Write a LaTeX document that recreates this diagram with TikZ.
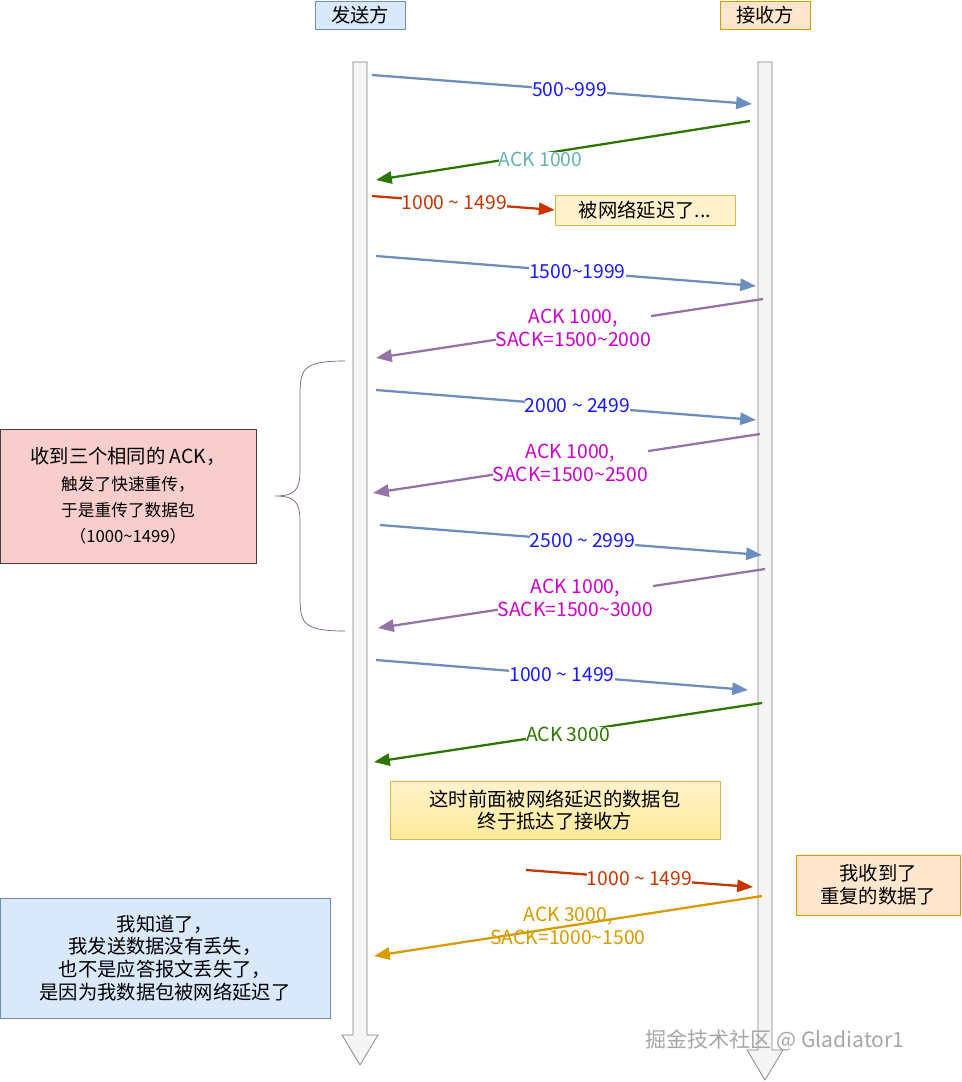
\documentclass[tikz,border=0pt]{standalone}
\usepackage{fontspec}
\setmainfont{Noto Sans CJK SC}
\usetikzlibrary{arrows.meta,positioning}
\definecolor{blueline}{HTML}{6C8EBF}
\definecolor{bluefill}{HTML}{DAE8FC}
\definecolor{greenline}{HTML}{2D7600}
\definecolor{redline}{HTML}{C73500}
\definecolor{purpleline}{HTML}{9673A6}
\definecolor{pinktext}{HTML}{CC00CC}
\definecolor{orangeline}{HTML}{D79B00}
\definecolor{orangefill}{HTML}{FFE6CC}
\definecolor{yellowfill}{HTML}{FFF2CC}
\definecolor{yellowline}{HTML}{D6B656}
\definecolor{redfill}{HTML}{F8CECC}
\definecolor{bluetext}{HTML}{1A1AFF}
\tikzset{
  msg/.style={line width=1.3pt,-{Triangle[length=9pt,width=7pt]}},
  lbl/.style={font=\fontsize{11}{13}\selectfont,fill=white,inner sep=0pt,align=center},
  box/.style={draw,font=\fontsize{11}{13}\selectfont,align=center,inner sep=2pt}
}
\begin{document}
\begin{tikzpicture}[x=0.02cm,y=-0.02cm]
  \useasboundingbox (0,0) rectangle (962,1082);
  % lifelines
  \draw[gray,fill=gray!8] (353,62) -- (367,62) -- (367,1035) -- (378,1035) -- (360,1065) -- (342,1035) -- (353,1035) -- cycle;
  \draw[gray,fill=gray!8] (758,62) -- (772,62) -- (772,1050) -- (783,1050) -- (765,1080) -- (747,1050) -- (758,1050) -- cycle;
  \node[box,draw=blueline,fill=bluefill,minimum width=90*0.02cm,minimum height=28*0.02cm] (snd) at (360,15) {发送方};
  \node[box,draw=orangeline,fill=orangefill,minimum width=90*0.02cm,minimum height=28*0.02cm] (rcv) at (765,15) {接收方};
  % end points
  \foreach \n/\x/\y in {a1/372/75,a2/752/104,b1/750/121,b2/376/180,c1/372/196,d1/376/256,d2/756/286,
      e1/763/299,e2/376/358,f1/376/390,f2/756/420,g1/760/434,g2/373/493,h1/380/525,h2/762/555,
      i1/765/569,i2/378/628,j1/376/660,j2/748/690,k1/762/703,k2/374/762,l1/526/870,l2/753/887,
      m1/762/896,m2/374/956}
    \coordinate (\n) at (\x,\y);
  \node[box,draw=yellowline,fill=yellowfill,minimum width=180*0.02cm,minimum height=30*0.02cm] (delay) at (645,210) {被网络延迟了...};
  \draw[msg,blueline] (a1) -- (a2) node[lbl,text=bluetext,pos=0.52] {500\textasciitilde999};
  \draw[msg,greenline] (b1) -- (b2) node[lbl,text=teal!60,pos=0.56,above=-8pt] {ACK 1000};
  \draw[msg,redline] (c1) -- (delay.west) node[lbl,pos=0.45] {\textcolor{redline}{1000 \textasciitilde{} 1499}};
  \draw[msg,blueline] (d1) -- (d2) node[lbl,text=bluetext,pos=0.53] {1500\textasciitilde1999};
  \draw[msg,purpleline] (e1) -- (e2) node[lbl,text=pinktext,pos=0.49] {ACK 1000,\\SACK=1500\textasciitilde2000};
  \draw[msg,blueline] (f1) -- (f2) node[lbl,text=bluetext,pos=0.53] {2000 \textasciitilde{} 2499};
  \draw[msg,purpleline] (g1) -- (g2) node[lbl,text=pinktext,pos=0.49] {ACK 1000,\\SACK=1500\textasciitilde2500};
  \draw[msg,blueline] (h1) -- (h2) node[lbl,text=bluetext,pos=0.53] {2500 \textasciitilde{} 2999};
  \draw[msg,purpleline] (i1) -- (i2) node[lbl,text=pinktext,pos=0.49] {ACK 1000,\\SACK=1500\textasciitilde3000};
  \draw[msg,blueline] (j1) -- (j2) node[lbl,text=bluetext,pos=0.5] {1000 \textasciitilde{} 1499};
  \draw[msg,greenline] (k1) -- (k2) node[lbl,text=greenline,pos=0.5,above=-6pt] {ACK 3000};
  \draw[msg,redline] (l1) -- (l2) node[lbl,text=redline,pos=0.5] {1000 \textasciitilde{} 1499};
  \draw[msg,orangeline] (m1) -- (m2) node[lbl,text=orangeline,pos=0.5,fill=none] {ACK 3000,\\SACK=1000\textasciitilde1500};
  % notes
  \node[box,draw=yellowline,top color=yellowfill,bottom color=yellow!60!orange!40,minimum width=330*0.02cm,minimum height=58*0.02cm] (arrive) at (555,810) {这时前面被网络延迟的数据包\\终于抵达了接收方};
  \node[box,draw=orangeline,fill=orangefill,minimum width=164*0.02cm,minimum height=60*0.02cm] (dup) at (878,885) {我收到了\\重复的数据了};
  \node[box,draw=blueline,fill=bluefill,minimum width=330*0.02cm,minimum height=120*0.02cm] (know) at (165,958) {我知道了，\\我发送数据没有丢失，\\也不是应答报文丢失了，\\是因为我数据包被网络延迟了};
  \node[box,draw=black!75,fill=redfill,minimum width=256*0.02cm,minimum height=134*0.02cm,font=\fontsize{9.5}{15}\selectfont] (fast) at (128,496) {{\fontsize{11}{13}\selectfont 收到三个相同的 ACK，}\\触发了快速重传，\\于是重传了数据包\\（1000\textasciitilde1499）};
  % brace
  \draw[purpleline!80!black] (345,361) .. controls (300,361) and (300,370) .. (300,400) -- (300,470)
    .. controls (300,490) and (295,496) .. (275,496) .. controls (295,496) and (300,502) .. (300,522)
    -- (300,592) .. controls (300,622) and (300,631) .. (345,631);
  \node[text=gray!70,font=\fontsize{12}{14}\selectfont] (mark) at (775,1040) {掘金技术社区 @ Gladiator1};
\end{tikzpicture}
\end{document}
